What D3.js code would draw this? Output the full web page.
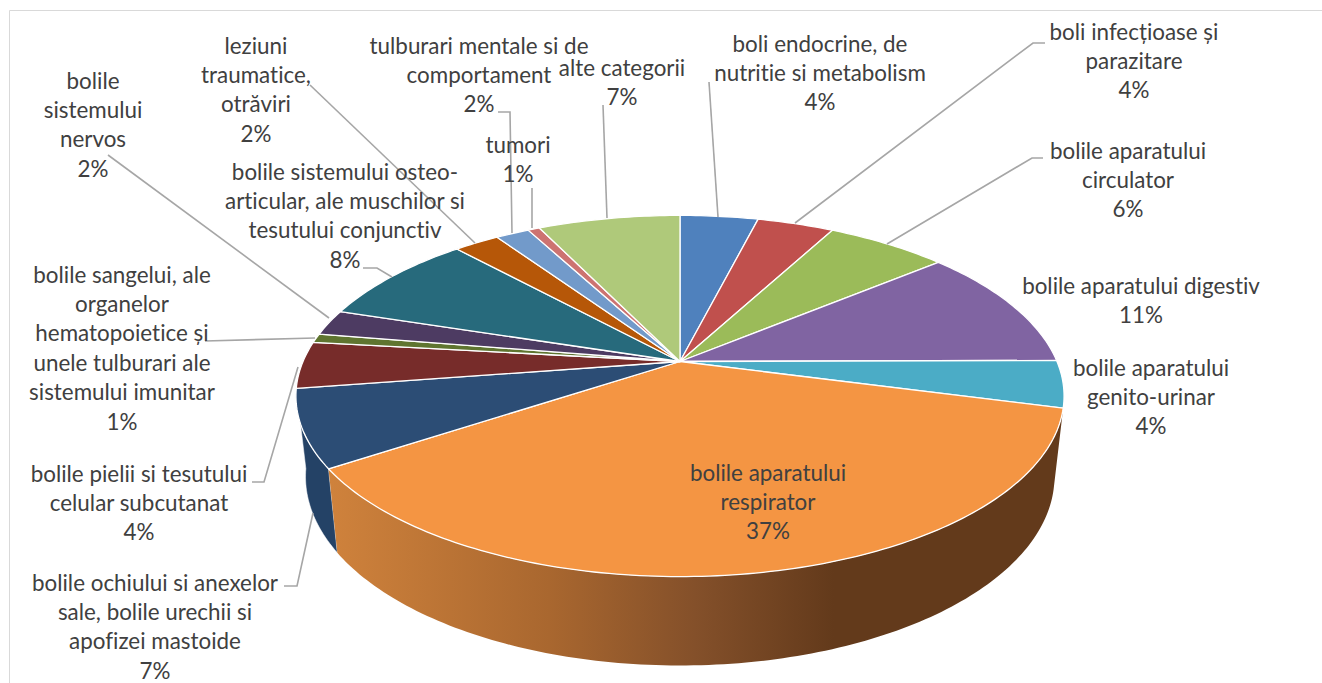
<!DOCTYPE html>
<html>
<head>
<meta charset="utf-8">
<style>
  html, body { margin: 0; padding: 0; background: #fff; }
  text { font-family: "Lato", sans-serif; font-size: 22.4px; font-variant-ligatures: none; fill: #404040; text-anchor: middle; }
</style>
<script src="https://cdn.jsdelivr.net/npm/d3@7"></script>
</head>
<body>
<div class="chart"></div>
<script>
var width = 1322,
    height = 683;

var categories = [
  "boli endocrine, de nutritie si metabolism",
  "boli infecțioase și parazitare",
  "bolile aparatului circulator",
  "bolile aparatului digestiv",
  "bolile aparatului genito-urinar",
  "bolile aparatului respirator",
  "bolile ochiului si anexelor sale, bolile urechii si apofizei mastoide",
  "bolile pielii si tesutului celular subcutanat",
  "bolile sangelui, ale organelor hematopoietice și unele tulburari ale sistemului imunitar",
  "bolile sistemului nervos",
  "bolile sistemului osteo-articular, ale muschilor si tesutului conjunctiv",
  "leziuni traumatice, otrăviri",
  "tulburari mentale si de comportament",
  "tumori",
  "alte categorii"
];
var values = [3.95, 3.88, 6.13, 10.94, 4.2, 36.6, 6.9, 4.2, 0.8, 2.3, 8.3, 2.3, 1.7, 0.6, 7.2];
var colors = ["#4f81bd", "#c0504d", "#9bbb59", "#8064a2", "#4bacc6", "#f49543", "#2c4d75", "#772c2a",
              "#5f7530", "#4d3b62", "#276a7c", "#b65708", "#729aca", "#cd7371", "#afc97a"];

// how each label is broken into lines
var labelLines = [
  ["boli endocrine, de", "nutritie si metabolism"],
  ["boli infecțioase și", "parazitare"],
  ["bolile aparatului", "circulator"],
  ["bolile aparatului digestiv"],
  ["bolile aparatului", "genito-urinar"],
  ["bolile aparatului", "respirator"],
  ["bolile ochiului si anexelor", "sale, bolile urechii si", "apofizei mastoide"],
  ["bolile pielii si tesutului", "celular subcutanat"],
  ["bolile sangelui, ale", "organelor", "hematopoietice și", "unele tulburari ale", "sistemului imunitar"],
  ["bolile", "sistemului", "nervos"],
  ["bolile sistemului osteo-", "articular, ale muschilor si", "tesutului conjunctiv"],
  ["leziuni", "traumatice,", "otrăviri"],
  ["tulburari mentale si de", "comportament"],
  ["tumori"],
  ["alte categorii"]
];
var labelX = [820, 1134, 1128, 1141, 1151, 768, 155, 139, 122, 93, 345, 256, 479, 518, 622];
var labelY = [51.5, 39.5, 158.5, 293.5, 375.5, 480.5, 590.5, 481.5, 282.5, 88.5, 179.5, 53.5, 53.5, 152.5, 75.5];

var leaders = [
  [[709, 82], [718, 217]],
  [[1045, 43], [1033, 43], [795, 223]],
  [[1043, 158], [1032, 158], [887, 244]],
  [],
  [],
  [],
  [[284, 586], [297, 586], [313, 513]],
  [[252, 482], [264, 482], [298, 367]],
  [[205, 341], [315, 338]],
  [[108, 155], [329, 318]],
  [[363, 268], [377, 268], [392, 277]],
  [[310, 85], [475, 243]],
  [[498, 112], [510, 112], [512, 233]],
  [[532, 188], [532, 228]],
  [[603, 105], [607, 218]]
];

var lineHeight = 29.4;

// perspective of the tilted disc, apex is where all slices meet
var cx = 680, cy = 361.5, A = 377, B = 174, p = 0.191;

// point on the rim for an angle, clockwise from the top
function rim(a, sx, sy, dy) {
  var w = 1 + p * Math.cos(a);
  return [cx + sx * A * Math.sin(a) / w, cy + dy - sy * B * Math.cos(a) / w];
}
function topRim(a) { return rim(a, 1, 1, 0); }
function bottomRim(a) { return rim(a, 0.975, 1.046, 79); }

function samples(a0, a1) {
  var n = Math.max(2, Math.ceil((a1 - a0) * 60));
  return d3.range(n + 1).map(function(i) { return a0 + (a1 - a0) * i / n; });
}

var svg = d3.select(".chart").append("svg")
    .attr("width", width)
    .attr("height", height)
    .style("display", "block");

var grad = svg.append("defs").append("linearGradient")
    .attr("id", "wall")
    .attr("gradientUnits", "userSpaceOnUse")
    .attr("x1", 330).attr("x2", 1060).attr("y1", 0).attr("y2", 0);
grad.selectAll("stop")
    .data([[0, "#cf823c"], [0.3, "#a9672f"], [0.5, "#84502a"], [0.69, "#633a1b"], [1, "#633a1b"]])
    .enter().append("stop")
    .attr("offset", function(d) { return d[0]; })
    .attr("stop-color", function(d) { return d[1]; });

// chart frame
svg.append("path")
    .attr("d", "M9.5," + height + "V10.5H" + width)
    .attr("fill", "none")
    .attr("stroke", "#d9d9d9");

var pie = d3.pie().sort(null).value(function(d) { return d; });
var arcs = pie(values);
var line = d3.line();

// side walls, only navy and orange face us
var walls = svg.append("g");
[{i: 6, fill: "#244266"}, {i: 5, fill: "url(#wall)"}].forEach(function(w) {
  var s = samples(arcs[w.i].startAngle, arcs[w.i].endAngle);
  walls.append("path")
      .attr("d", line(s.map(topRim).concat(s.slice().reverse().map(bottomRim))) + "Z")
      .attr("fill", w.fill)
      .attr("stroke", w.i == 6 ? "#fff" : "none")
      .attr("stroke-width", 0.5);
});

svg.append("g").selectAll("path")
    .data(arcs)
    .enter().append("path")
    .attr("d", function(d) {
      return line([[cx, cy]].concat(samples(d.startAngle, d.endAngle).map(topRim))) + "Z";
    })
    .attr("fill", function(d, i) { return colors[i]; })
    .attr("stroke", "#fff")
    .attr("stroke-width", 1.3)
    .attr("stroke-linejoin", "round");

svg.append("g").selectAll("path")
    .data(leaders.filter(function(d) { return d.length; }))
    .enter().append("path")
    .attr("d", function(d) { return line(d); })
    .attr("fill", "none")
    .attr("stroke", "#a6a6a6")
    .attr("stroke-width", 1.6);

var fmt = d3.format(".0f");
var label = svg.append("g").selectAll("text")
    .data(categories)
    .enter().append("text")
    .attr("y", function(d, i) { return labelY[i]; });
label.each(function(d, i) {
  var lines = labelLines[i].concat(fmt(values[i]) + "%");
  d3.select(this).selectAll("tspan")
      .data(lines)
      .enter().append("tspan")
      .attr("x", labelX[i])
      .attr("dy", function(l, j) { return j ? lineHeight : 0; })
      .text(function(l) { return l; });
});
</script>
</body>
</html>
